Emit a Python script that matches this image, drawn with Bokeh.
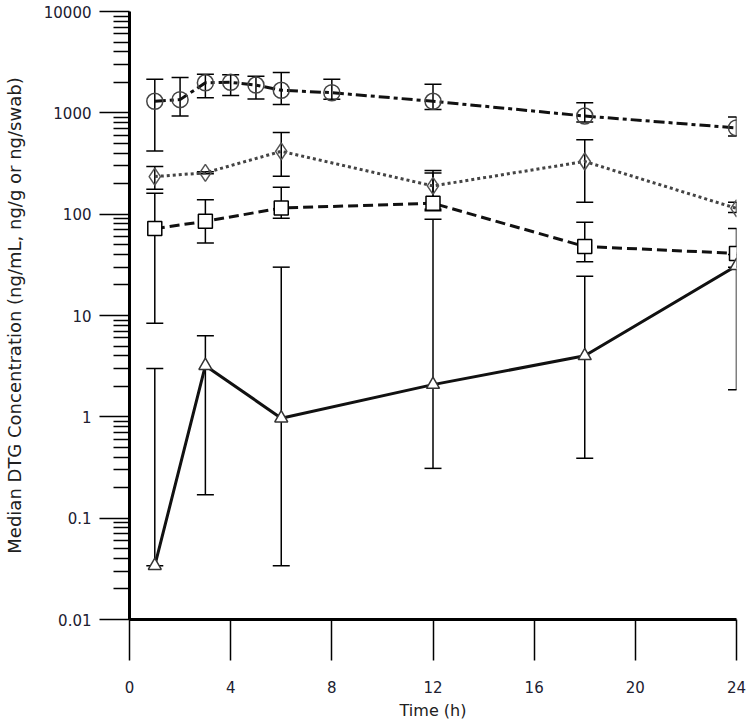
from bokeh.plotting import figure
from bokeh.models import ColumnDataSource, Whisker, TeeHead, FixedTicker, CustomJSTickFormatter
from bokeh.embed import file_html
from bokeh.resources import INLINE

# ---- data ----
t_circle = [1, 2, 3, 4, 5, 6, 8, 12, 18, 24]
med_circle = [1300, 1350, 1980, 2000, 1880, 1670, 1580, 1300, 930, 710]
lo_circle = [420, 930, 1410, 1480, 1370, 1210, 1360, 1080, 810, 590]
hi_circle = [2150, 2230, 2400, 2370, 2300, 2500, 2150, 1910, 1260, 910]

t_other = [1, 3, 6, 12, 18, 24]
med_diamond = [235, 256, 417, 190, 331, 114]
lo_diamond = [176, 250, 237, 112, 131, 104]
hi_diamond = [296, 262, 638, 270, 543, 131]

med_square = [72, 85, 115, 128, 48, 41]
lo_square = [8.4, 52, 91, 108, 34, 30]
hi_square = [161, 139, 184, 255, 83, 72]

med_tri = [0.034, 3.2, 0.97, 2.08, 4.0, 31]
lo_tri = [0.034, 0.17, 0.034, 0.31, 0.39, 1.85]
hi_tri = [3.0, 6.3, 30, 89, 24.4, 40]

x_ticks = [0, 4, 8, 12, 16, 20, 24]
y_ticks = [0.01, 0.1, 1, 10, 100, 1000, 10000]

FONT = "DejaVu Sans"

p = figure(width=746, height=722, x_range=(0, 24), y_range=(0.01, 10000),
           y_axis_type="log", output_backend="svg", toolbar_location=None,
           min_border_left=128, min_border_right=10, min_border_top=11,
           min_border_bottom=103)
p.outline_line_color = None
p.xgrid.visible = False
p.ygrid.visible = False
p.background_fill_color = "white"

minor = [k * d for d in [0.01, 0.1, 1, 10, 100, 1000] for k in range(2, 10)]

# axes
p.xaxis.ticker = FixedTicker(ticks=x_ticks)
p.yaxis.ticker = FixedTicker(ticks=y_ticks, minor_ticks=minor)
p.yaxis.formatter = CustomJSTickFormatter(code="return tick.toString();")
for ax in (p.xaxis[0], p.yaxis[0]):
    ax.axis_line_width = 3
    ax.axis_line_color = "black"
    ax.major_tick_line_width = 1.5
    ax.minor_tick_line_width = 1.5
    ax.major_tick_line_color = "black"
    ax.minor_tick_line_color = "black"
    ax.major_tick_in = 0
    ax.minor_tick_in = 0
    ax.major_label_text_font = FONT
    ax.major_label_text_font_size = "15px"
    ax.major_label_text_color = "#202030"
    ax.axis_label_text_font = FONT
    ax.axis_label_text_font_style = "normal"
    ax.axis_label_text_color = "#202020"

p.yaxis.major_tick_out = 30
p.yaxis.minor_tick_out = 16
p.yaxis.major_label_standoff = 8
p.yaxis.axis_label = "Median DTG Concentration (ng/mL, ng/g or ng/swab)"
p.yaxis.axis_label_text_font_size = "18px"
p.yaxis.axis_label_standoff = 16

p.xaxis.major_tick_out = 41
p.xaxis.minor_tick_out = 0
p.xaxis.major_label_standoff = 20
p.xaxis.axis_label = "Time (h)"
p.xaxis.axis_label_text_font_size = "16px"
p.xaxis.axis_label_standoff = 5

src_c = ColumnDataSource(dict(x=t_circle, y=med_circle, lo=lo_circle, hi=hi_circle))
src_d = ColumnDataSource(dict(x=t_other, y=med_diamond, lo=lo_diamond, hi=hi_diamond))
src_s = ColumnDataSource(dict(x=t_other, y=med_square, lo=lo_square, hi=hi_square))
src_t = ColumnDataSource(dict(x=t_other, y=med_tri, lo=lo_tri, hi=hi_tri))

# lines
p.line("x", "y", source=src_c, line_color="#111111", line_width=3, line_dash="11 4 4 4")
p.line("x", "y", source=src_d, line_color="#444444", line_width=3, line_dash="3 3")
p.line("x", "y", source=src_s, line_color="#111111", line_width=3, line_dash="10 5")
p.line("x", "y", source=src_t, line_color="#111111", line_width=3)

# error bars
for src in (src_c, src_d, src_s, src_t):
    w = Whisker(source=src, base="x", lower="lo", upper="hi",
                line_color="black", line_width=1.5,
                upper_head=TeeHead(size=17, line_color="black", line_width=1.5),
                lower_head=TeeHead(size=17, line_color="black", line_width=1.5))
    w.level = "underlay"
    p.add_layout(w)

# markers
p.scatter("x", "y", source=src_c, marker="circle", size=16, fill_alpha=0,
          line_color="#444444", line_width=1.5)
p.scatter("x", "y", source=src_d, marker="diamond", size=17, fill_alpha=0,
          line_color="#555555", line_width=1.5)
p.scatter("x", "y", source=src_s, marker="square", size=14, fill_color="white",
          line_color="black", line_width=1.5)
p.scatter("x", "y", source=src_t, marker="triangle", size=13, fill_color="white",
          line_color="#333333", line_width=1.5)

open("out.html", "w").write(file_html(p, INLINE))
